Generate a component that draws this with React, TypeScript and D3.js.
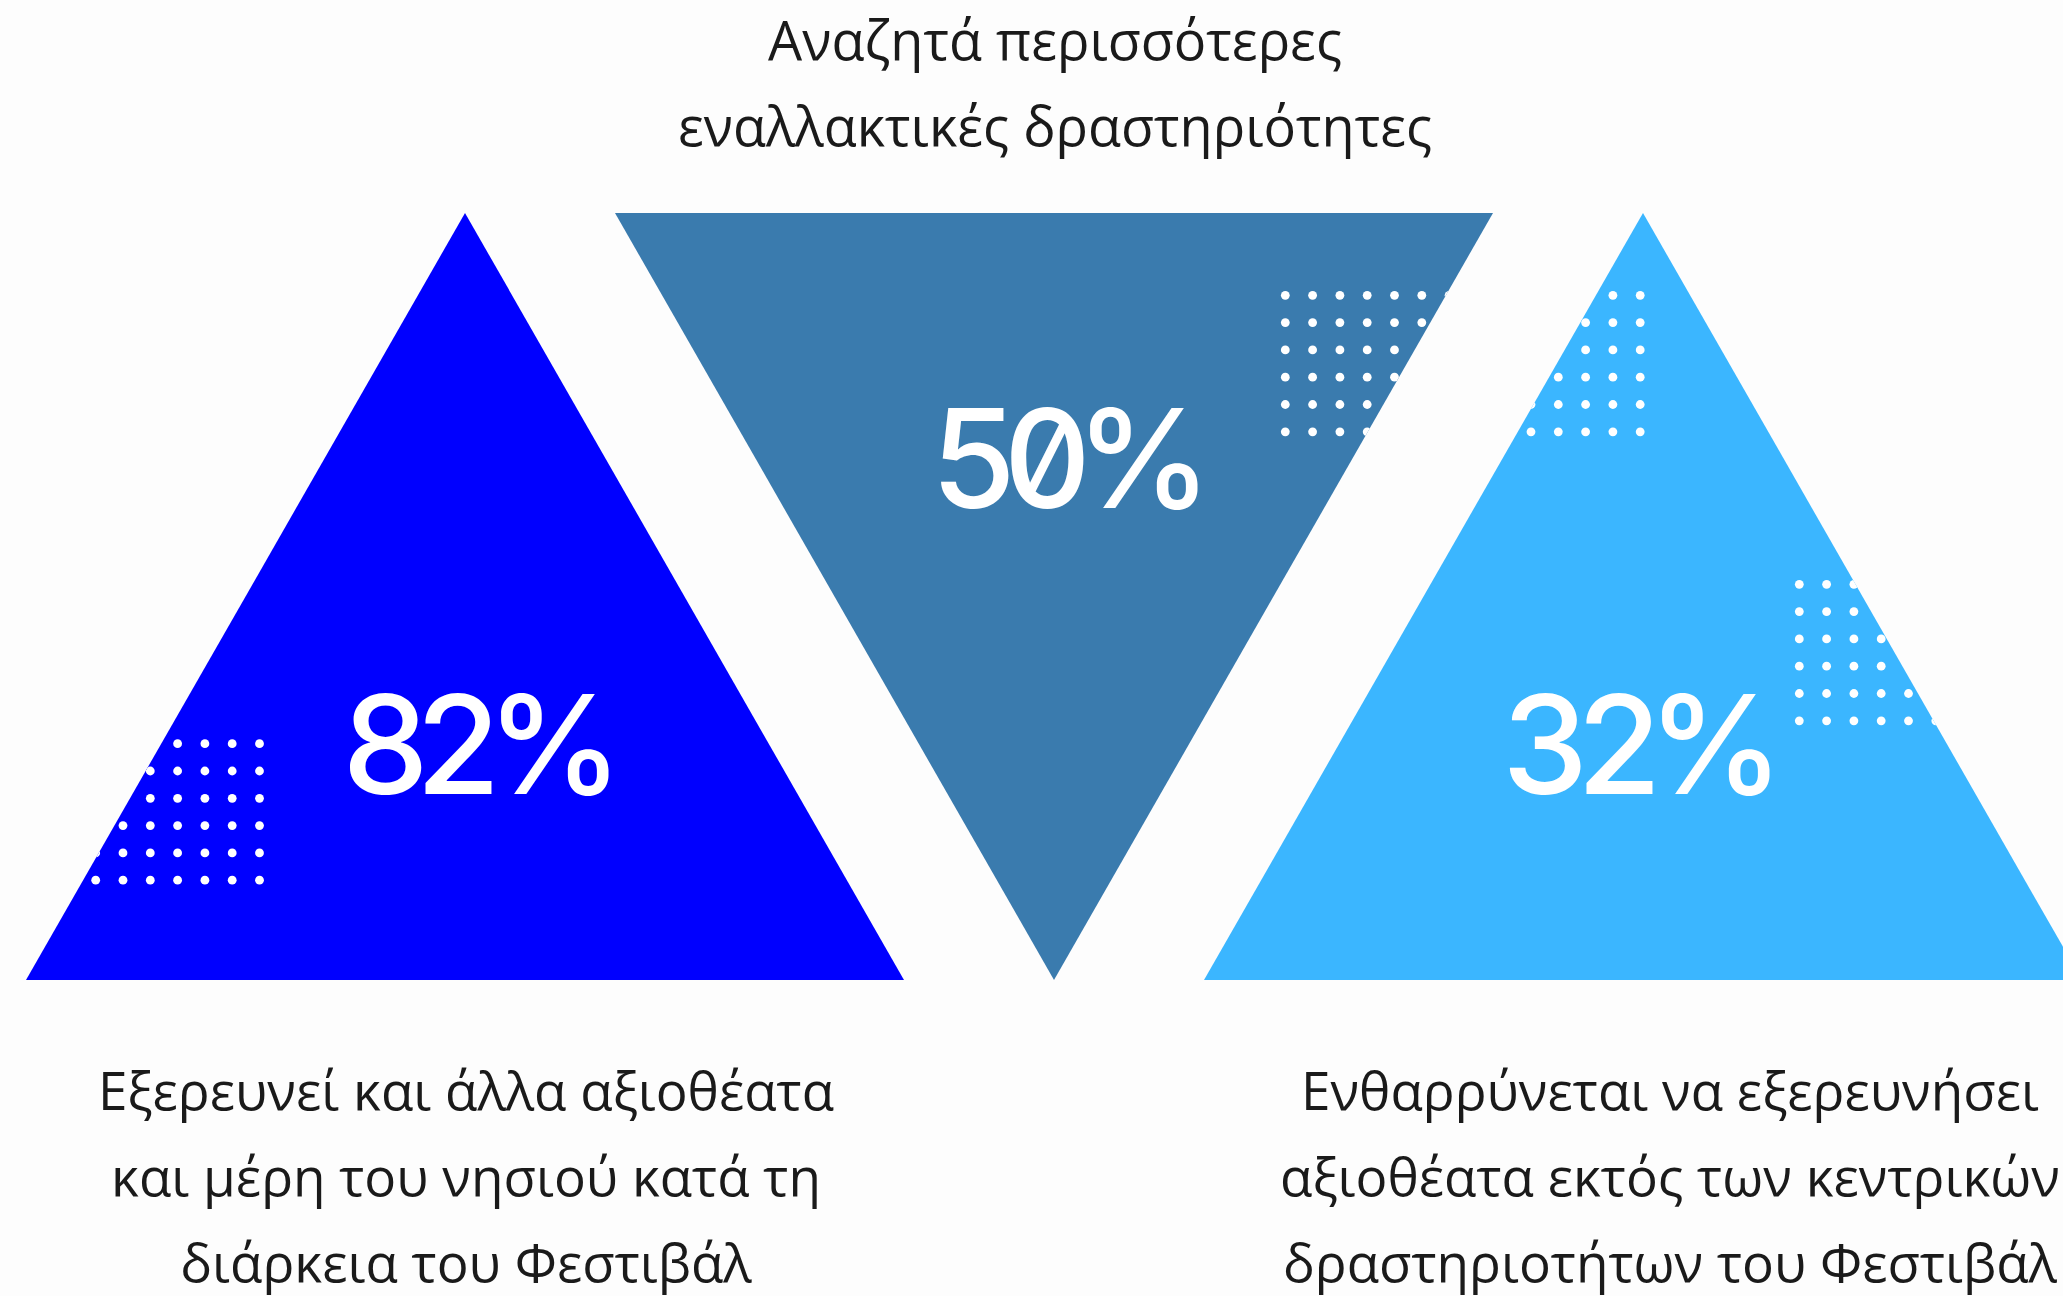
import React from "react";
import * as d3 from "d3";

const categories = ["left", "middle", "right"];
const values = [82, 50, 32];
const directions = ["up", "down", "up"];
const colors = ["#0000ff", "#3a7bae", "#3bb6ff"];
const labelLines = [
  ["Εξερευνεί και άλλα αξιοθέατα", "και μέρη του νησιού κατά τη", "διάρκεια του Φεστιβάλ"],
  ["Αναζητά περισσότερες", "εναλλακτικές δραστηριότητες"],
  ["Ενθαρρύνεται να εξερευνήσει", "αξιοθέατα εκτός των κεντρικών", "δραστηριοτήτων του Φεστιβάλ"],
];

const W = 2063;
const H = 1296;
const TRI_W = 878;
const TOP = 213;
const BOTTOM = 980;

// layout tweaks (visual placement)
const valueNudgeX = [9, 9, -8];
const labelNudgeX = [1, 1, 27];

const dotGrids = [
  { x0: 95.7, y0: 743.7, cols: 7, rows: 6 },
  { x0: 1285.3, y0: 295.3, cols: 14, rows: 6 },
  { x0: 1799.3, y0: 584.3, cols: 7, rows: 6 },
];
const DOT_STEP = 27.3;

export default function App() {
  const x = d3.scalePoint<string>().domain(categories).range([465, 1643]);
  const y = d3.scaleLinear().domain([0, 1]).range([TOP, BOTTOM]);

  const line = d3.line<[number, number]>();

  const tri = (i: number) => {
    const cx = x(categories[i])!;
    const hw = TRI_W / 2;
    if (directions[i] === "up") {
      return line([[cx, y(0)], [cx + hw, y(1)], [cx - hw, y(1)]]) + "Z";
    }
    return line([[cx - hw, y(0)], [cx + hw, y(0)], [cx, y(1)]]) + "Z";
  };

  const textFont = "'Open Sans', 'Noto Sans', sans-serif";

  return (
    <svg
      width={W}
      height={H}
      style={{ position: "absolute", left: 0, top: 0, background: "#fdfdfd" }}
    >
      <defs>
        <clipPath id="triClip">
          {categories.map((c, i) => (
            <path key={c} d={tri(i)} />
          ))}
        </clipPath>
      </defs>
      <rect x={0} y={0} width={W} height={H} fill="#fdfdfd" />
      {categories.map((c, i) => (
        <path key={c} d={tri(i)} fill={colors[i]} />
      ))}
      <g clipPath="url(#triClip)">
        {dotGrids.map((g, gi) =>
          d3.range(g.rows).flatMap((r) =>
            d3.range(g.cols).map((k) => (
              <circle
                key={`${gi}-${r}-${k}`}
                cx={g.x0 + k * DOT_STEP}
                cy={g.y0 + r * DOT_STEP}
                r={4.4}
                fill="#ffffff"
              />
            ))
          )
        )}
      </g>
      {categories.map((c, i) => (
        <text
          key={"v" + c}
          x={x(c)! + valueNudgeX[i]}
          y={directions[i] === "up" ? y(0.757) : y(0.385)}
          textAnchor="middle"
          fill="#ffffff"
          style={{
            fontFamily: "Inter, sans-serif",
            fontSize: 137,
            fontWeight: 500,
            letterSpacing: -16,
            fontFeatureSettings: "'zero' 1, 'tnum' 1",
          }}
        >
          {values[i] + "%"}
        </text>
      ))}
      {categories.map((c, i) => {
        const up = directions[i] === "up";
        const baseY = up ? 1110 : 60;
        return (
          <text
            key={"l" + c}
            textAnchor="middle"
            fill="#1a1a1a"
            style={{ fontFamily: textFont, fontSize: up ? 53 : 54, fontWeight: 400 }}
          >
            {labelLines[i].map((ln, j) => (
              <tspan key={j} x={x(c)! + labelNudgeX[i]} y={baseY + j * 86}>
                {ln}
              </tspan>
            ))}
          </text>
        );
      })}
    </svg>
  );
}
